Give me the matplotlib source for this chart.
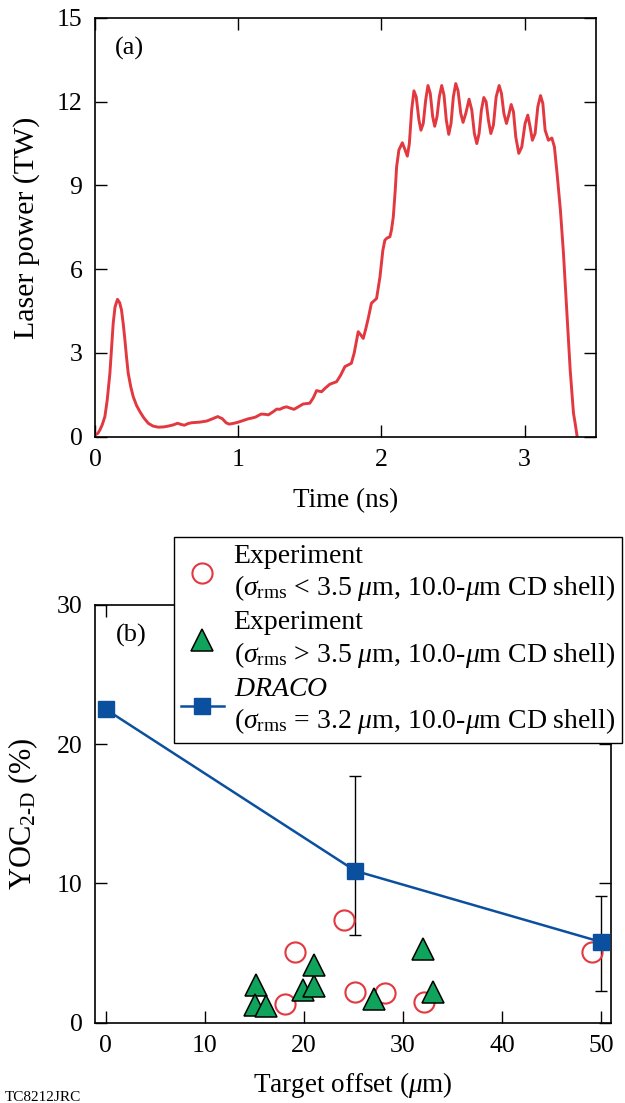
import matplotlib
matplotlib.use("Agg")
import matplotlib.pyplot as plt
from matplotlib.lines import Line2D

plt.rcParams['font.family'] = ['Liberation Serif', 'DejaVu Serif']
plt.rcParams['mathtext.fontset'] = 'custom'
plt.rcParams['mathtext.rm'] = 'Liberation Serif'
plt.rcParams['mathtext.it'] = 'Liberation Serif:italic'
plt.rcParams['mathtext.bf'] = 'Liberation Serif:bold'

# (a) laser pulse shape
time_ns = [0.0, 0.02, 0.034, 0.05, 0.069, 0.085, 0.104, 0.115, 0.127, 0.14,
           0.157, 0.172, 0.185, 0.197, 0.209, 0.22, 0.232, 0.25, 0.267, 0.29,
           0.313, 0.34, 0.372, 0.405, 0.442, 0.48, 0.512, 0.545, 0.577, 0.6,
           0.624, 0.65, 0.675, 0.73, 0.78, 0.82, 0.857, 0.89, 0.915, 0.936,
           0.97, 1.0, 1.035, 1.07, 1.09, 1.12, 1.16, 1.19, 1.21, 1.24,
           1.27, 1.29, 1.315, 1.337, 1.365, 1.39, 1.42, 1.453, 1.5, 1.525,
           1.547, 1.582, 1.61, 1.64, 1.687, 1.715, 1.745, 1.79, 1.81, 1.838,
           1.855, 1.873, 1.89, 1.908, 1.93, 1.966, 1.99, 2.01, 2.024, 2.04,
           2.059, 2.07, 2.083, 2.096, 2.106, 2.122, 2.146, 2.164, 2.181, 2.195,
           2.211, 2.227, 2.243, 2.262, 2.276, 2.292, 2.309, 2.325, 2.341, 2.358,
           2.372, 2.388, 2.404, 2.421, 2.437, 2.453, 2.47, 2.486, 2.502, 2.519,
           2.535, 2.554, 2.57, 2.589, 2.612, 2.631, 2.649, 2.666, 2.682, 2.698,
           2.715, 2.731, 2.747, 2.764, 2.782, 2.801, 2.822, 2.838, 2.855, 2.873,
           2.889, 2.906, 2.922, 2.938, 2.959, 2.98, 3.003, 3.022, 3.038, 3.054,
           3.073, 3.092, 3.111, 3.127, 3.143, 3.166, 3.19, 3.208, 3.227, 3.25,
           3.271, 3.295, 3.318, 3.341, 3.352, 3.365]
power_tw = [0.06, 0.12, 0.24, 0.42, 0.72, 1.3, 2.27, 3.1, 4.06, 4.65,
            4.92, 4.8, 4.54, 4.05, 3.46, 2.85, 2.27, 1.78, 1.43, 1.12,
            0.9, 0.68, 0.48, 0.38, 0.34, 0.35, 0.38, 0.42, 0.48, 0.44,
            0.41, 0.47, 0.5, 0.52, 0.56, 0.64, 0.72, 0.64, 0.5, 0.45,
            0.48, 0.52, 0.58, 0.64, 0.66, 0.7, 0.81, 0.8, 0.78, 0.88,
            0.99, 0.98, 1.04, 1.07, 1.02, 0.98, 1.07, 1.17, 1.2, 1.4,
            1.65, 1.61, 1.75, 1.88, 1.97, 2.2, 2.51, 2.63, 3.0, 3.76,
            3.65, 3.52, 3.85, 4.24, 4.78, 4.95, 5.73, 6.68, 7.04, 7.12,
            7.16, 7.4, 7.88, 8.8, 9.67, 10.27, 10.53, 10.29, 10.05, 10.5,
            11.7, 12.39, 12.17, 11.34, 10.98, 11.22, 12.06, 12.58, 12.3, 11.46,
            11.12, 11.46, 12.17, 12.58, 12.23, 11.34, 10.83, 11.22, 12.17, 12.65,
            12.39, 11.58, 11.26, 11.58, 12.09, 11.7, 10.86, 10.5, 10.86, 11.7,
            12.15, 12.0, 11.34, 10.86, 11.16, 12.17, 12.58, 12.3, 11.58, 11.22,
            11.52, 11.9, 11.64, 10.74, 10.15, 10.38, 11.22, 11.52, 11.1, 10.62,
            10.86, 11.82, 12.22, 11.94, 10.98, 10.62, 10.7, 10.38, 9.4, 8.1,
            6.57, 4.4, 2.39, 0.84, 0.5, 0.06]

# (b) YOC vs target offset
exp_low_x = [24.05, 19.1, 18.1, 25.2, 28.2, 32.1, 49.05]
exp_low_y = [7.37, 5.1, 1.34, 2.18, 2.1, 1.46, 5.05]
exp_high_x = [15.15, 15.1, 16.2, 19.9, 21.0, 21.0, 27.1, 32.0, 33.0]
exp_high_y = [2.74, 1.3, 1.2, 2.38, 2.67, 4.17, 1.71, 5.3, 2.19]
draco_x = [0, 25.2, 50]
draco_y = [22.5, 10.9, 5.8]
draco_err_lo = [0, 4.6, 3.5]
draco_err_hi = [0, 6.8, 3.3]

red = '#e2383f'
green = '#10a35c'
blue = '#0b4f9f'

fig = plt.figure(figsize=(6.25, 11.03), dpi=100)
ax1 = fig.add_axes([0.152, 0.6041, 0.802, 0.3796])
ax2 = fig.add_axes([0.152, 0.0728, 0.8256, 0.3787])

for ax in (ax1, ax2):
    ax.tick_params(direction='in', length=8.5, width=1, top=True, right=True,
                   labelsize=18.5, pad=9)
    for s in ax.spines.values():
        s.set_linewidth(1.2)

# top panel
ax1.plot(time_ns, power_tw, color=red, lw=2.1, solid_joinstyle='round')
ax1.set_xlim(0, 3.5)
ax1.set_ylim(0, 15)
ax1.set_xticks([0, 1, 2, 3])
ax1.set_yticks([0, 3, 6, 9, 12, 15])
ax1.set_xlabel('Time (ns)', fontsize=19.5, labelpad=12)
ax1.set_ylabel('Laser power (TW)', fontsize=21.5, labelpad=12)
ax1.text(0.04, 0.955, '(a)', transform=ax1.transAxes, fontsize=19, va='top')

# bottom panel
ax2.errorbar(draco_x, draco_y, yerr=[draco_err_lo, draco_err_hi], fmt='none',
             ecolor='black', elinewidth=1, capsize=4, capthick=1, zorder=2)
ax2.plot(draco_x, draco_y, color=blue, lw=1.8, marker='s', ms=11,
         mfc=blue, mec=blue, zorder=4)
ax2.plot(exp_low_x, exp_low_y, ls='none', marker='o', ms=14.5, mfc='none',
         mec=red, mew=1.5, zorder=3)
ax2.plot(exp_high_x, exp_high_y, ls='none', marker='^', ms=15.5, mfc=green,
         mec='black', mew=1.1, zorder=3)
ax2.set_xlim(-1.1, 51)
ax2.set_ylim(0, 30)
ax2.set_xticks([0, 10, 20, 30, 40, 50])
ax2.set_yticks([0, 10, 20, 30])
ax2.set_xlabel(r'Target offset ($\mu$m)', fontsize=19.5, labelpad=9)
ax2.set_ylabel('YOC$_{\\mathrm{2\u2010D}}$ (%)', fontsize=22, labelpad=12)
ax2.text(0.04, 0.955, '(b)', transform=ax2.transAxes, fontsize=19, va='top')

handles = [
    Line2D([], [], ls='none', marker='o', ms=14.5, mfc='none', mec=red, mew=1.5),
    Line2D([], [], ls='none', marker='^', ms=15.5, mfc=green, mec='black', mew=1.1),
    Line2D([], [], color=blue, lw=1.8, marker='s', ms=11, mfc=blue, mec=blue),
]
labels = [
    'Experiment\n($\\sigma_{\\mathrm{rms}}$ < 3.5 $\\mu$m, 10.0-$\\mu$m CD shell)',
    'Experiment\n($\\sigma_{\\mathrm{rms}}$ > 3.5 $\\mu$m, 10.0-$\\mu$m CD shell)',
    '$\\mathit{DRACO}$\n($\\sigma_{\\mathrm{rms}}$ = 3.2 $\\mu$m, 10.0-$\\mu$m CD shell)',
]
leg = ax2.legend(handles, labels, loc='upper right',
                 bbox_to_anchor=(622 / 625, 1 - 537 / 1103),
                 bbox_transform=fig.transFigure, fontsize=20, frameon=True,
                 fancybox=False, edgecolor='black', framealpha=1,
                 handlelength=1.55, handletextpad=0.35, labelspacing=0.25,
                 borderpad=0.25, borderaxespad=0)
leg.get_frame().set_linewidth(1.0)
leg.set_zorder(5)

fig.text(0.008, 1 - 1091 / 1103, 'TC8212JRC', fontsize=11, va='top')

fig.savefig('out.png', dpi=100)
